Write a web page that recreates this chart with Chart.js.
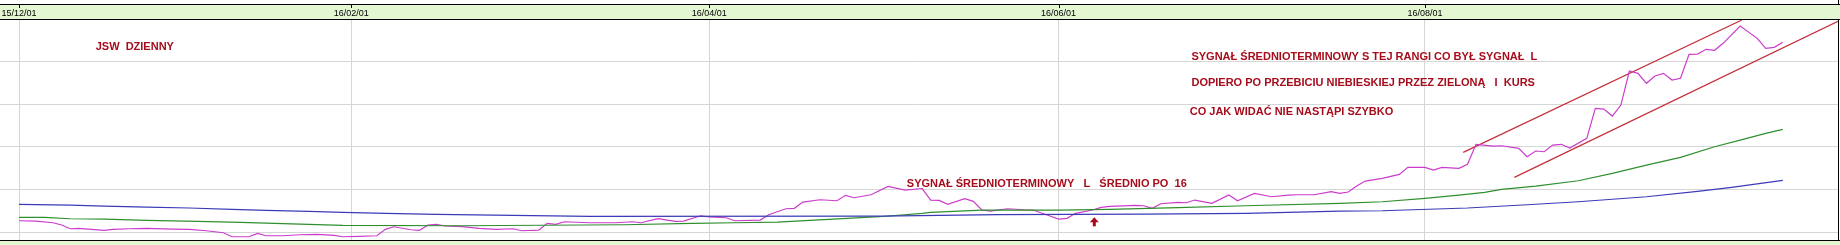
<!DOCTYPE html>
<html>
<head>
<meta charset="utf-8">
<script src="https://cdn.jsdelivr.net/npm/chart.js@4/dist/chart.umd.min.js"></script>
<style>
  html, body { margin: 0; padding: 0; background: #fff; }
  #wrap { width: 1840px; height: 245px; }
</style>
</head>
<body>
<div id="wrap"><canvas id="myChart"></canvas></div>
<script>
// Data (x = trading-day index from 15/12/01)
const tickDays   = [0, 39, 81, 122, 165];
const tickLabels = ['15/12/01', '16/02/01', '16/04/01', '16/06/01', '16/08/01'];

const priceDays = [0,2,4,5,6,7,10,11,13,15,18,20,22,24,25,27,28,29,31,33,35,37,38,40,42,43,44,46,47,48,49,50,52,54,56,58,59,61,62,63,64,67,68,70,72,73,75,77,78,80,81,83,84,87,88,90,91,92,94,96,97,98,100,102,104,106,107,108,109,111,112,113,114,116,118,119,121,122,123,124,126,127,128,131,132,133,134,136,137,138,140,142,143,145,147,149,150,152,154,155,156,157,158,160,162,163,165,166,167,169,170,171,173,174,176,177,178,179,180,181,182,184,185,186,187,188,189,190,191,192,193,194,195,196,197,198,199,200,202,204,205,206,207];
const price = [12.65,12.58,12.18,11.64,10.77,10.87,10.40,10.63,10.77,10.87,10.70,10.63,10.30,9.84,8.90,8.90,9.70,9.13,9.13,9.37,9.46,9.23,8.90,8.99,9.13,10.63,11.24,10.54,10.40,11.64,11.80,11.41,11.29,10.87,10.63,10.77,10.30,10.47,12.04,11.80,12.41,12.18,12.18,12.18,12.41,12.18,13.12,12.51,12.58,13.82,13.52,13.35,12.65,12.81,14.06,15.46,15.56,17.03,17.57,17.34,18.60,18.04,18.74,20.71,19.84,20.20,17.50,17.43,16.49,17.81,17.20,15.16,14.92,15.46,15.23,15.16,13.75,13.05,13.21,14.38,15.16,15.79,16.02,16.26,16.16,15.56,16.63,16.96,16.87,17.50,16.73,18.67,17.34,19.07,18.27,18.67,18.74,18.74,19.45,19.07,19.38,20.78,21.95,22.59,23.52,25.17,25.17,24.53,25.17,24.93,25.87,30.56,30.16,30.23,29.62,27.65,28.99,28.82,30.39,30.56,29.69,31.96,39.00,38.83,37.19,39.77,47.74,47.20,44.86,46.57,47.20,45.63,46.03,51.65,51.72,52.83,52.59,54.23,58.29,55.40,53.06,53.29,54.47];

const maShortDays = [0,3,6,10,15,21,26,30,34,38,52,71,79,84,89,95,101,106,107,113,122,128,136,144,155,160,165,169,172,174,178,183,187,191,195,199,202,205,207];
const maShort = [13.45,13.45,13.12,13.05,12.74,12.51,12.27,12.04,11.80,11.57,11.48,11.71,12.04,12.18,12.34,12.98,13.59,14.38,14.62,15.16,15.16,15.32,15.70,16.16,16.73,17.10,17.90,18.67,19.31,20.01,20.78,22.02,23.76,25.70,27.51,29.99,31.56,33.14,34.07];

const maLongDays = [0,6,10,15,20,25,29,34,38,43,49,58,67,101,115,132,144,155,160,170,177,183,191,197,201,207];
const maLong = [16.49,16.33,16.09,15.86,15.63,15.32,15.09,14.85,14.62,14.38,14.15,13.91,13.68,13.75,14.10,14.22,14.38,14.92,14.99,15.63,16.40,17.10,18.27,19.54,20.48,22.12];

const channelTopDays = [169.5, 202.2];
const channelTop     = [28.68, 59.7];
const channelLowDays = [175.5, 213.6];
const channelLow     = [22.82, 59.53];

// Notes drawn on the chart, anchored in data space
const notes = [
  { day: 9.0,   val: 53.43, text: 'JSW  DZIENNY' },
  { day: 137.6, val: 51.02, text: 'SYGNAŁ ŚREDNIOTERMINOWY S TEJ RANGI CO BYŁ SYGNAŁ  L' },
  { day: 137.6, val: 44.93, text: 'DOPIERO PO PRZEBICIU NIEBIESKIEJ PRZEZ ZIELONĄ   I  KURS' },
  { day: 137.4, val: 38.13, text: 'CO JAK WIDAĆ NIE NASTĄPI SZYBKO' },
  { day: 104.2, val: 21.25, text: 'SYGNAŁ ŚREDNIOTERMINOWY   L   ŚREDNIO PO  16' }
];
const arrowAt = { day: 126.2, val: 13.45 };

// Styles
const BAND = '#e4f7d3';
const GRID = '#d6d6d6';
const NOTE = '#a60d1c';
const FONT = '"Liberation Sans", Arial, sans-serif';

function pts(days, vals) {
  return days.map((d, i) => ({ x: d, y: vals[i] }));
}

function line(data, color) {
  return { data, borderColor: color, borderWidth: 1.2, pointRadius: 0, tension: 0, fill: false };
}

const framePlugin = {
  id: 'frame',
  beforeDraw(chart) {
    const { ctx, width, height, chartArea: a } = chart;
    ctx.save();
    ctx.fillStyle = '#fff';
    ctx.fillRect(0, 0, width, height);
    ctx.fillStyle = BAND;
    ctx.fillRect(0, 4, width, a.top - 4);
    ctx.fillRect(0, a.bottom, width, height - a.bottom);
    ctx.restore();
  },
  afterDraw(chart) {
    const { ctx, width, chartArea: a, scales } = chart;
    ctx.save();
    ctx.strokeStyle = '#000';
    ctx.lineWidth = 1;
    ctx.beginPath();
    ctx.moveTo(0, 4.5);           ctx.lineTo(width, 4.5);
    ctx.moveTo(0, a.top - 0.5);   ctx.lineTo(width, a.top - 0.5);
    ctx.moveTo(0, a.bottom - 0.5); ctx.lineTo(width, a.bottom - 0.5);
    ctx.moveTo(a.right - 0.5, 0); ctx.lineTo(a.right - 0.5, 4.5);
    ctx.moveTo(a.right - 0.5, a.top); ctx.lineTo(a.right - 0.5, a.bottom);
    // small tick marks under the top rule
    tickDays.forEach(d => {
      const x = Math.round(scales.x.getPixelForValue(d)) + 0.5;
      ctx.moveTo(x, 4.5); ctx.lineTo(x, 8);
    });
    ctx.stroke();

    // notes
    ctx.fillStyle = NOTE;
    ctx.font = 'bold 11px ' + FONT;
    ctx.textBaseline = 'middle';
    ctx.textAlign = 'left';
    notes.forEach(n => {
      ctx.fillText(n.text, scales.x.getPixelForValue(n.day), scales.y.getPixelForValue(n.val));
    });

    // up arrow
    const ax = scales.x.getPixelForValue(arrowAt.day);
    const ay = scales.y.getPixelForValue(arrowAt.val);
    ctx.beginPath();
    ctx.moveTo(ax, ay);
    ctx.lineTo(ax - 4.5, ay + 5);
    ctx.lineTo(ax + 4.5, ay + 5);
    ctx.closePath();
    ctx.fill();
    ctx.fillRect(ax - 1.5, ay + 4.5, 3, 4.5);
    ctx.restore();
  }
};

const ctx = document.getElementById('myChart').getContext('2d');
new Chart(ctx, {
  type: 'line',
  data: {
    datasets: [
      line(pts(maLongDays, maLong), '#3b3bb8'),
      line(pts(maShortDays, maShort), '#2f8f2f'),
      line(pts(priceDays, price), '#cc3ccc'),
      line(pts(channelTopDays, channelTop), '#c3303a'),
      line(pts(channelLowDays, channelLow), '#c3303a')
    ]
  },
  options: {
    responsive: true,
    maintainAspectRatio: false,
    animation: false,
    layout: { padding: { top: 0, left: 0, right: 1, bottom: 4 } },
    plugins: { legend: { display: false }, tooltip: { enabled: false } },
    scales: {
      x: {
        type: 'linear',
        position: 'top',
        min: -2.23,
        max: 213.6,
        afterBuildTicks: s => { s.ticks = tickDays.map(v => ({ value: v })); },
        afterFit: s => { s.height = 20; },
        ticks: {
          autoSkip: false,
          maxRotation: 0,
          padding: 1,
          color: '#000',
          font: { family: FONT, size: 9 },
          callback: v => tickLabels[tickDays.indexOf(v)] || ''
        },
        grid: { color: GRID, drawTicks: false },
        border: { display: false }
      },
      y: {
        min: 7.9,
        max: 59.7,
        afterBuildTicks: s => { s.ticks = [10, 20, 30, 40, 50].map(v => ({ value: v })); },
        afterFit: s => { s.width = 0; },
        ticks: { display: false },
        grid: { color: GRID, drawTicks: false },
        border: { display: false }
      }
    }
  },
  plugins: [framePlugin]
});
</script>
</body>
</html>
